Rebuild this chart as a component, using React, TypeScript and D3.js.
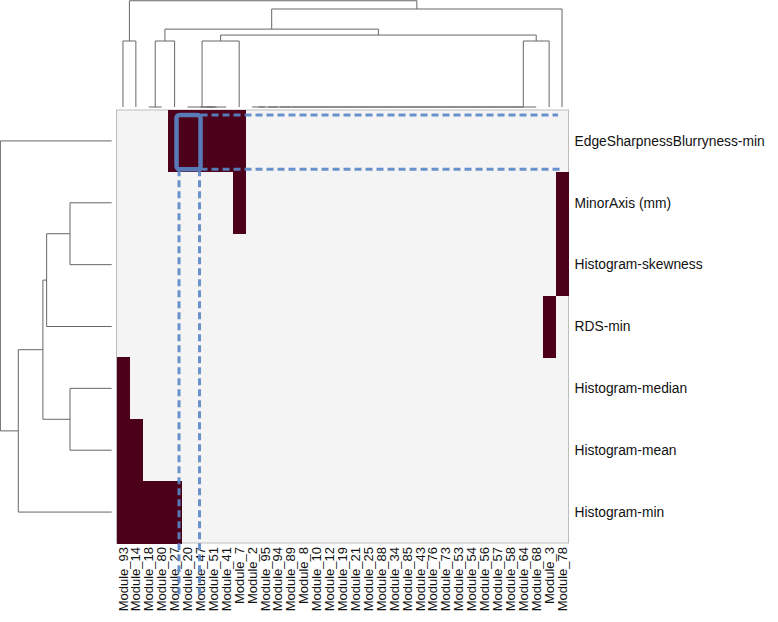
import React from 'react'
import * as d3 from 'd3'

// column order (leaf order of the top dendrogram)
const modules = [
  'Module_93', 'Module_14', 'Module_18', 'Module_80', 'Module_27', 'Module_20', 'Module_47',
  'Module_51', 'Module_41', 'Module_7', 'Module_2', 'Module_95', 'Module_94', 'Module_89',
  'Module_8', 'Module_10', 'Module_12', 'Module_19', 'Module_21', 'Module_25', 'Module_88',
  'Module_34', 'Module_85', 'Module_43', 'Module_76', 'Module_73', 'Module_53', 'Module_54',
  'Module_56', 'Module_57', 'Module_58', 'Module_64', 'Module_68', 'Module_3', 'Module_78',
]

// row order (leaf order of the left dendrogram)
const features = [
  'EdgeSharpnessBlurryness-min', 'MinorAxis (mm)', 'Histogram-skewness', 'RDS-min',
  'Histogram-median', 'Histogram-mean', 'Histogram-min',
]

// modules that are "on" for each feature
const edgeHits = ['Module_27', 'Module_20', 'Module_47', 'Module_51', 'Module_41', 'Module_7']
const minorAxisHits = ['Module_7', 'Module_78']
const skewnessHits = ['Module_78']
const rdsHits = ['Module_3']
const medianHits = ['Module_93']
const meanHits = ['Module_93', 'Module_14']
const minHits = ['Module_93', 'Module_14', 'Module_18', 'Module_80', 'Module_27']
const hitsByRow = [edgeHits, minorAxisHits, skewnessHits, rdsHits, medianHits, meanHits, minHits]

// highlighted module
const highlight = 'Module_20'

type Node = string | { h: number; children: Node[] }
const node = (h: number, a: Node, b: Node): Node => ({ h, children: [a, b] })

// modules with no hits merge at height 0, one after another
const zeroModules = modules.slice(10, 33)
const zeroCluster = zeroModules.slice(1).reduce<Node>((acc, m) => node(0, acc, m), zeroModules[0])

const colTree = node(1.61,
  node(1, 'Module_93', 'Module_14'),
  node(1.485,
    node(1.18,
      node(1, node(0, 'Module_18', 'Module_80'), 'Module_27'),
      node(1.09,
        node(1, node(0, 'Module_20', node(0, node(0, 'Module_47', 'Module_51'), 'Module_41')), 'Module_7'),
        node(1, zeroCluster, 'Module_3'))),
    'Module_78'))

const rowTree = node(2.67,
  'EdgeSharpnessBlurryness-min',
  node(2.24,
    node(1.65,
      node(1.56, node(1, 'MinorAxis (mm)', 'Histogram-skewness'), 'RDS-min'),
      node(1, 'Histogram-median', 'Histogram-mean')),
    'Histogram-min'))

const W = 778
const H = 622
const hm = { left: 116.5, right: 568.5, top: 110, bottom: 543 }
const DARK = '#4d0019'
const BLUE = '#5a88c8'
const LINE = '#666'

// builds segments of an R style dendrogram: pos(leaf) gives leaf position, hs(h) the height coordinate
function dendroSegments(tree: Node, pos: (k: string) => number, hs: (h: number) => number) {
  const root = d3.hierarchy<Node>(tree, (d) => (typeof d === 'string' ? null : d.children))
  const p = new Map<any, number>()
  root.eachAfter((n) => {
    if (!n.children) p.set(n, pos(n.data as string))
    else p.set(n, d3.mean(n.children, (c) => p.get(c)!)!)
  })
  const hOf = (n: any) => (typeof n.data === 'string' ? 0 : n.data.h)
  const segs: { a: number; b: number; c: number; d: number }[] = []
  root.each((n) => {
    if (!n.children) return
    const nh = hs(hOf(n))
    const [l, r] = n.children
    // cross bar
    segs.push({ a: p.get(l)!, b: nh, c: p.get(r)!, d: nh })
    for (const c of n.children) segs.push({ a: p.get(c)!, b: nh, c: p.get(c)!, d: hs(hOf(c)) })
  })
  return segs
}

export default function App() {
  const x = d3.scaleBand().domain(modules).range([hm.left, hm.right])
  const y = d3.scaleBand().domain(features).range([hm.top, hm.bottom])
  const bw = x.bandwidth()
  const bh = y.bandwidth()

  const colH = d3.scaleLinear().domain([0, 1]).range([107, 41])
  const rowH = d3.scaleLinear().domain([0, 1]).range([111.7, 70])

  const topSegs = dendroSegments(colTree, (k) => x(k)! + bw / 2, colH)
  const leftSegs = dendroSegments(rowTree, (k) => y(k)! + bh / 2, rowH)

  const hx = x(highlight)! + bw / 2 + 1
  const ry = y(features[0])!
  const boxL = hx - 12
  const boxR = hx + 12
  const boxT = ry + 5
  const boxB = ry + bh - 2.5

  const font = '"Liberation Sans", Arial, Helvetica, sans-serif'

  return (
    <svg width={W} height={H} style={{ position: 'absolute', left: 0, top: 0 }} fontFamily={font}>
      <rect x={0} y={0} width={W} height={H} fill="#fff" />

      {/* heatmap */}
      <rect x={hm.left} y={hm.top} width={hm.right - hm.left} height={hm.bottom - hm.top}
        fill="#f4f4f4" stroke="#bdbdbd" strokeWidth={1} />
      <g shapeRendering="crispEdges">
        {hitsByRow.map((hits, ri) =>
          hits.map((m) => (
            <rect key={features[ri] + m} x={x(m)} y={y(features[ri])} width={bw + 0.6} height={bh + 0.6} fill={DARK} />
          ))
        )}
      </g>

      {/* top dendrogram */}
      <g stroke={LINE} strokeWidth={1} fill="none">
        {topSegs.map((s, i) => (
          <line key={i} x1={s.a} y1={s.b} x2={s.c} y2={s.d} />
        ))}
      </g>

      {/* left dendrogram */}
      <g stroke={LINE} strokeWidth={1} fill="none">
        {leftSegs.map((s, i) => (
          <line key={i} x1={s.b} y1={s.a} x2={s.d} y2={s.c} />
        ))}
      </g>

      {/* row labels */}
      {features.map((f) => (
        <text key={f} x={hm.right + 6} y={y(f)! + bh / 2} dy="0.35em" fontSize={13.8} fill="#111">
          {f}
        </text>
      ))}

      {/* column labels */}
      {modules.map((m) => (
        <text key={m} transform={`translate(${x(m)! + bw / 2},${hm.bottom + 4}) rotate(-90)`}
          textAnchor="end" dy="0.35em" fontSize={13} fill="#111">
          {m}
        </text>
      ))}

      {/* highlight */}
      <g stroke={BLUE} fill="none" opacity={0.9}>
        <g strokeWidth={3} strokeDasharray="7 4">
          <line x1={boxR} y1={boxT} x2={558} y2={boxT} />
          <line x1={boxR} y1={boxB} x2={560} y2={boxB} />
          <line x1={boxL + 2.5} y1={boxB} x2={boxL + 2.5} y2={596} />
          <line x1={boxR - 1} y1={boxB} x2={boxR - 1} y2={596} />
        </g>
        <rect x={boxL} y={boxT} width={boxR - boxL} height={boxB - boxT} rx={3} strokeWidth={4.5} />
      </g>
    </svg>
  )
}
